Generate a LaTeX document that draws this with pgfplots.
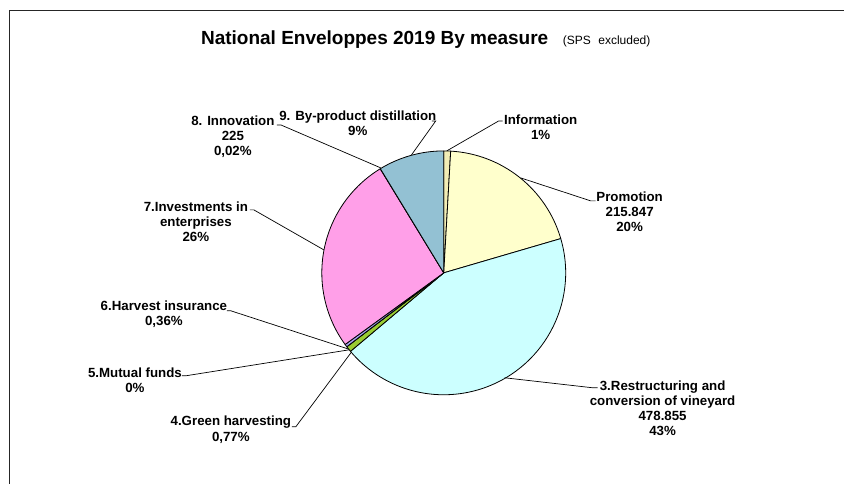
\documentclass[border=0pt]{standalone}
\usepackage{pgfplots}
\usepackage{pgfplotstable}
\pgfplotsset{compat=1.18}
\usepackage{fontspec}
\setmainfont{Liberation Sans}

\definecolor{infoc}{HTML}{F2EDB5}
\definecolor{promoc}{HTML}{FFFFCC}
\definecolor{restc}{HTML}{CCFFFF}
\definecolor{greenc}{HTML}{99CC33}
\definecolor{mutualc}{HTML}{CC99FF}
\definecolor{insc}{HTML}{A6A6F2}
\definecolor{investc}{HTML}{FF9FE8}
\definecolor{innovc}{HTML}{9999FF}
\definecolor{byprodc}{HTML}{93C1D3}

% values in thousands of EUR, clockwise from 12 o'clock
\pgfplotstableread[col sep=comma]{
name,value,col
Information,10,infoc
Promotion,215.847,promoc
Restructuring,478.855,restc
Green,8.5,greenc
Mutual,0,mutualc
Insurance,4,insc
Investments,290,investc
Innovation,0.225,innovc
Byproduct,96,byprodc
}\piedata

\pgfplotstablegetrowsof{\piedata}
\pgfmathtruncatemacro{\lastrow}{\pgfplotsretval-1}
\def\total{0}
\pgfplotsforeachungrouped \i in {0,...,\lastrow}{%
  \pgfplotstablegetelem{\i}{value}\of\piedata
  \pgfmathsetmacro\total{\total+\pgfplotsretval}%
}

\newcommand\lab{\bfseries\fontsize{13.3bp}{15.2bp}\selectfont}

\begin{document}
\begin{tikzpicture}
\begin{axis}[
  scale only axis, width=844bp, height=484bp,
  xmin=0, xmax=844, ymin=0, ymax=484, y dir=reverse,
  hide axis, clip=false]
\path (axis cs:0,0) rectangle (axis cs:844,484);
% frame
\draw[line width=1bp, black!85] (axis cs:9.5,484) -- (axis cs:9.5,10.5) -- (axis cs:844,10.5);
% pie
\def\cum{0}
\pgfplotsforeachungrouped \i in {0,...,\lastrow}{%
  \pgfplotstablegetelem{\i}{value}\of\piedata \let\v\pgfplotsretval
  \pgfplotstablegetelem{\i}{col}\of\piedata \let\c\pgfplotsretval
  \pgfmathsetmacro\a{90-360*(\cum/\total)}%
  \pgfmathsetmacro\cum{\cum+\v}%
  \pgfmathsetmacro\b{90-360*(\cum/\total)}%
  \edef\temp{\noexpand\filldraw[fill=\c, draw=black, line width=0.8bp, line join=round] (axis cs:444,273) -- ++(\a:122bp) arc[start angle=\a, end angle=\b, radius=122bp] -- cycle;}%
  \temp
}
% leader lines
\begin{scope}[line width=0.7bp, black]
\draw (axis cs:447,151) -- (axis cs:499,121) -- (axis cs:503,121);
\draw (axis cs:521,178) -- (axis cs:591,201) -- (axis cs:596,201);
\draw (axis cs:505,378) -- (axis cs:593,388) -- (axis cs:598,388);
\draw (axis cs:351.5,352.5) -- (axis cs:296,427) -- (axis cs:292,427);
\draw (axis cs:349.5,350) -- (axis cs:186,376) -- (axis cs:182,376);
\draw (axis cs:348.8,349.3) -- (axis cs:231,311) -- (axis cs:227,311);
\draw (axis cs:324,250) -- (axis cs:254,210) -- (axis cs:250,210);
\draw (axis cs:381,168) -- (axis cs:281,125) -- (axis cs:277,125);
\draw (axis cs:411.7,155) -- (axis cs:436,121) -- (axis cs:432,121);
\end{scope}
% title
\node[anchor=west, inner sep=0, font=\bfseries\fontsize{19bp}{22bp}\selectfont] at (axis cs:201,40) {National Enveloppes 2019 By measure};
\node[anchor=west, inner sep=0, font=\fontsize{12bp}{14bp}\selectfont] at (axis cs:563,41) {(SPS\hspace{0.35em} excluded)};
% labels
\begin{scope}[every node/.style={align=center, inner sep=0, font=\lab}]
\node at (axis cs:541,127) {Information\\1\%};
\node at (axis cs:630,212) {Promotion\\215.847\\20\%};
\node at (axis cs:663,408.5) {3.Restructuring and\\conversion of vineyard\\478.855\\43\%};
\node at (axis cs:231,430) {4.Green harvesting\\0,77\%};
\node at (axis cs:135,380.5) {5.Mutual funds\\0\%};
\node at (axis cs:164,314.5) {6.Harvest insurance\\0,36\%};
\node at (axis cs:196,222) {7.Investments in\\enterprises\\26\%};
\node at (axis cs:233,137) {8. Innovation\\225\\0,02\%};
\node at (axis cs:358,123.5) {9. By-product distillation\\9\%};
\end{scope}
\end{axis}
\end{tikzpicture}
\end{document}
